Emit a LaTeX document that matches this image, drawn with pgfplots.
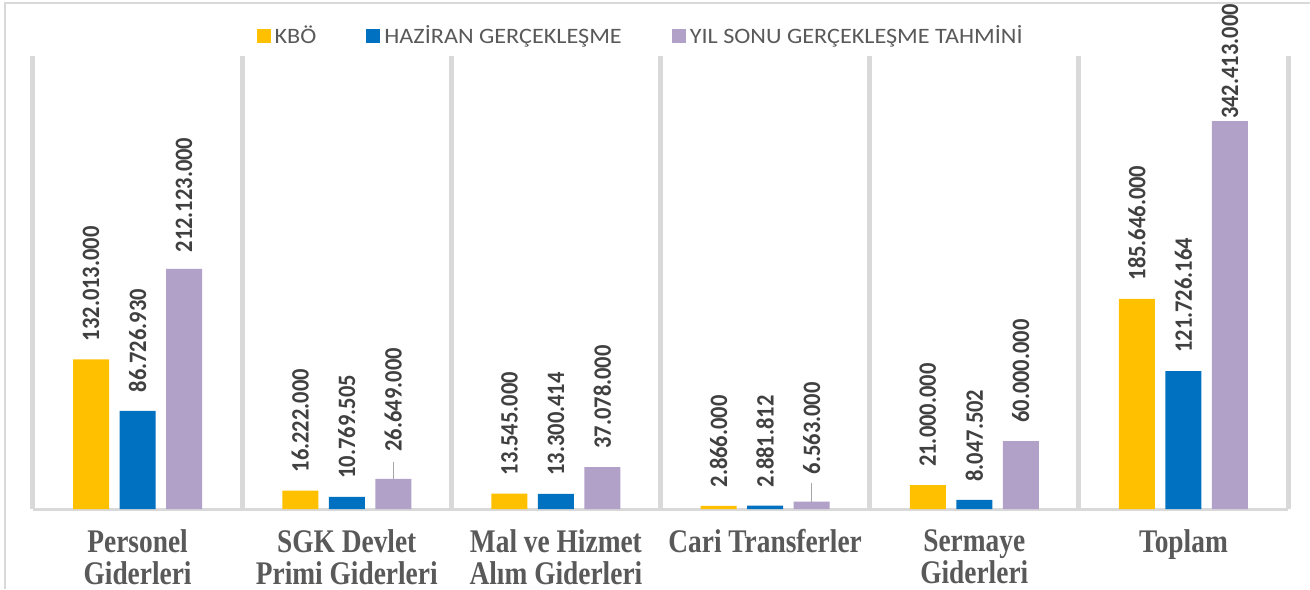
\documentclass[border=0pt]{standalone}
\usepackage{pgfplots}
\usepackage{pgfplotstable}
\pgfplotsset{compat=1.18}
\usepackage{fontspec}
\setmainfont{Carlito}
\newfontfamily\lblfont[FakeStretch=0.9]{Carlito}
\newfontfamily\legfont[FakeStretch=1.1]{Carlito}
\newfontfamily\catfont[FakeStretch=0.83]{Liberation Serif}
\definecolor{cyellow}{HTML}{FFC000}
\definecolor{cblue}{HTML}{0070C0}
\definecolor{cpurple}{HTML}{B1A0C7}
\definecolor{gridgray}{HTML}{D9D9D9}
\definecolor{lbltext}{HTML}{404040}
\definecolor{cattext}{HTML}{595959}
\definecolor{leader}{HTML}{A6A6A6}

\pgfplotstableread{
x y lab
0 132013000 132.013.000
1 16222000 16.222.000
2 13545000 13.545.000
3 2866000 2.866.000
4 21000000 21.000.000
5 185646000 185.646.000
}\kbo
\pgfplotstableread{
x y lab
0 86726930 86.726.930
1 10769505 10.769.505
2 13300414 13.300.414
3 2881812 2.881.812
4 8047502 8.047.502
5 121726164 121.726.164
}\haziran
\pgfplotstableread{
x y lab off e
0 212123000 212.123.000 8 0
1 26649000 26.649.000 13.5 15000000
2 37078000 37.078.000 9 0
3 6563000 6.563.000 13.5 16800000
4 60000000 60.000.000 9 0
5 342413000 342.413.000 1 0
}\yilsonu

\begin{document}
\begin{tikzpicture}
\useasboundingbox (0,0) rectangle (655pt,294.5pt);
\draw[gridgray, line width=0.75pt] (2.5pt,0) -- (2.5pt,293pt) -- (655pt,293pt);
\begin{axis}[
  at={(16.5pt,40pt)}, anchor=south west,
  scale only axis, width=627.5pt, height=226.5pt,
  clip=false,
  ybar=5.25pt, bar width=18pt,
  xmin=-0.5, xmax=5.5, ymin=0, ymax=400000000,
  axis x line*=bottom, axis y line=none,
  x axis line style={-, draw=gridgray, line width=1.5pt},
  xtick={0,1,2,3,4,5},
  xticklabels={{Personel\\Giderleri},{SGK Devlet\\Primi Giderleri},{Mal ve Hizmet\\Alım Giderleri},{Cari Transferler},{Sermaye\\Giderleri},{Toplam}},
  minor xtick={-0.5,0.5,1.5,2.5,3.5,4.5,5.5},
  xminorgrids=true,
  minor grid style={draw=gridgray, line width=2.5pt},
  major tick length=0pt, minor tick length=0pt,
  xticklabel style={align=center, font={\fontsize{16.5}{16}\catfont\bfseries}, text=cattext, inner sep=0pt, anchor=north},
  xticklabel shift=10pt,
  nodes near coords,
  point meta=explicit symbolic,
  every node near coord/.append style={rotate=90, anchor=west, font={\fontsize{12.5}{15}\lblfont\bfseries}, text=lbltext, inner xsep=9pt, inner ysep=0pt},
  legend columns=3,
  legend style={at={(0.485,1.044)}, anchor=center, draw=none, fill=none,
    font={\fontsize{11}{13}\legfont}, text=cattext,
    /tikz/every odd column/.append style={column sep=0pt},
    /tikz/every even column/.append style={column sep=23pt},
    inner sep=0pt},
  legend image code/.code={\fill[#1,draw=none] (0pt,-3.5pt) rectangle (7pt,3.5pt);},
]
\addplot[fill=cyellow, draw=none] table[x=x, y=y, meta=lab] {\kbo};
\addplot[fill=cblue, draw=none] table[x=x, y=y, meta=lab] {\haziran};
\addplot[fill=cpurple, draw=none,
  visualization depends on={\thisrow{off}\as\labeloff},
  every node near coord/.append style={inner xsep=\labeloff pt},
  error bars/.cd, y dir=plus, y explicit, error mark=none,
  error bar style={draw=leader, line width=0.6pt}]
  table[x=x, y=y, meta=lab, y error plus=e] {\yilsonu};
\legend{KBÖ, HAZİRAN GERÇEKLEŞME, YIL SONU GERÇEKLEŞME TAHMİNİ}
\end{axis}
\end{tikzpicture}
\end{document}
